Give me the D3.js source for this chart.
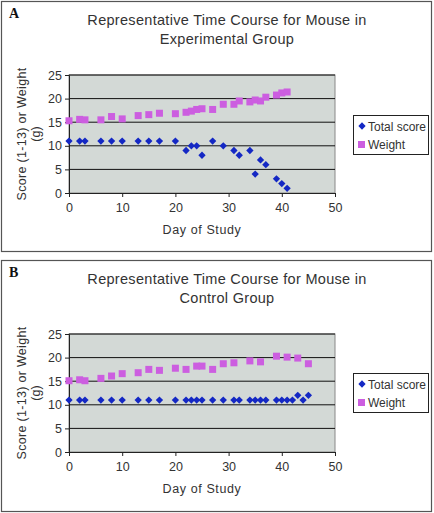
<!DOCTYPE html>
<html><head><meta charset="utf-8">
<script src="https://cdn.jsdelivr.net/npm/d3@7"></script>
<style>body{margin:0;background:#fff}svg{display:block}text{font-family:"Liberation Sans",Arial,sans-serif;fill:#333}</style>
</head><body>
<script>
const xTicks = [0,10,20,30,40,50];
const yTicks = [0,5,10,15,20,25];
const labels = ["A","B"];
const titles = [["Representative Time Course for Mouse in","Experimental Group"],["Representative Time Course for Mouse in","Control Group"]];
const seriesNames = ["Total score","Weight"];

const daysScoreA = [0,2,3,6,8,10,13,15,17,20,22,23,24,25,27,29,31,32,34,35,36,37,39,40,41];
const scoreA     = [11,11,11,11,11,11,11,11,11,11,9,10,10,8,11,10,9,8,9,4,7,6,3,2,1];
const daysWeightA = [0,2,3,6,8,10,13,15,17,20,22,23,24,25,27,29,31,32,34,35,36,37,39,40,41];
const weightA     = [15.3,15.6,15.5,15.5,16.2,15.7,16.4,16.6,16.9,16.8,17.1,17.35,17.7,17.85,17.7,18.8,18.8,19.5,19.3,19.7,19.5,20.3,20.75,21.2,21.4];

const daysScoreB = [0,2,3,6,8,10,13,15,17,20,22,23,24,25,27,29,31,32,34,35,36,37,39,40,41,42,43,44,45];
const scoreB     = [11,11,11,11,11,11,11,11,11,11,11,11,11,11,11,11,11,11,11,11,11,11,11,11,11,11,12,11,12];
const daysWeightB = [0,2,3,6,8,10,13,15,17,20,22,24,25,27,29,31,34,36,39,41,43,45];
const weightB     = [15.1,15.3,15.1,15.6,16.1,16.6,16.8,17.5,17.3,17.75,17.5,18.2,18.2,17.5,18.7,18.9,19.3,19.1,20.3,20.1,19.9,18.7];

const W = 434, H = 513;
const svg = d3.select("body").append("svg").attr("width", W).attr("height", H);

const panels = [
  {top:1, bottom:251, plotTop:75, plotBottom:193, sd:daysScoreA, s:scoreA, wd:daysWeightA, w:weightA},
  {top:260, bottom:511, plotTop:334, plotBottom:452, sd:daysScoreB, s:scoreB, wd:daysWeightB, w:weightB}
];
const blue = "#1428c4", pink = "#cc5ee0";

panels.forEach((p, i) => {
  const g = svg.append("g");
  g.append("rect").attr("x", 1.5).attr("y", p.top + 0.5).attr("width", 430).attr("height", p.bottom - p.top)
    .attr("fill", "#fff").attr("stroke", "#555").attr("stroke-width", 1.2);
  g.append("text").attr("x", 9).attr("y", p.top + 17).text(labels[i])
    .style("font-family", "'Liberation Serif',serif").style("font-weight", "bold").style("font-size", "14px").style("fill", "#111");
  titles[i].forEach((t, j) => {
    g.append("text").attr("x", 227).attr("y", p.top + 24 + j * 19).attr("text-anchor", "middle")
      .style("font-size", "14.5px").style("letter-spacing", "0.3px").text(t);
  });
  const x = d3.scaleLinear().domain([0, 50]).range([69, 335]);
  const y = d3.scaleLinear().domain([0, 25]).range([p.plotBottom, p.plotTop]);
  g.append("rect").attr("x", x(0)).attr("y", y(25)).attr("width", x(50) - x(0)).attr("height", y(0) - y(25))
    .attr("fill", "#d3d9d6").attr("stroke", "#888").attr("stroke-width", 1);
  g.selectAll(".grid").data(yTicks.filter(v => v > 0)).join("line")
    .attr("x1", x(0)).attr("x2", x(50)).attr("y1", d => y(d)).attr("y2", d => y(d))
    .attr("stroke", "#111").attr("stroke-width", 1);
  const ya = g.append("g").attr("transform", `translate(${x(0)},0)`)
    .call(d3.axisLeft(y).tickValues(yTicks).tickSize(4).tickPadding(3));
  const xa = g.append("g").attr("transform", `translate(0,${y(0)})`)
    .call(d3.axisBottom(x).tickValues(xTicks).tickSize(4).tickPadding(6));
  [ya, xa].forEach(a => {
    a.select(".domain").attr("stroke", "#222");
    a.selectAll(".tick line").attr("stroke", "#222");
    a.selectAll("text").style("font-size", "12.5px").style("font-family", "'Liberation Sans',Arial,sans-serif").attr("fill", "#333");
  });
  g.append("text").attr("x", 202).attr("y", p.plotBottom + 41).attr("text-anchor", "middle")
    .style("font-size", "12.5px").style("letter-spacing", "0.6px").text("Day of Study");
  const cy = (p.plotTop + p.plotBottom) / 2;
  g.append("text").attr("transform", `translate(26,${cy}) rotate(-90)`).attr("text-anchor", "middle")
    .style("font-size", "12.5px").style("letter-spacing", "0.3px").text("Score (1-13) or Weight");
  g.append("text").attr("transform", `translate(40,${cy}) rotate(-90)`).attr("text-anchor", "middle")
    .style("font-size", "12.5px").text("(g)");

  g.selectAll(".w").data(p.wd.map((d, k) => [d, p.w[k]])).join("rect")
    .attr("x", d => x(d[0]) - 3.5).attr("y", d => y(d[1]) - 3.5).attr("width", 7).attr("height", 7).attr("fill", pink);
  const diamond = d3.symbol().type(d3.symbolDiamond2).size(34);
  g.selectAll(".s").data(p.sd.map((d, k) => [d, p.s[k]])).join("path")
    .attr("d", diamond).attr("transform", d => `translate(${x(d[0])},${y(d[1])})`).attr("fill", blue);

  const lx = 353, ly = p.top + (i === 0 ? 114 : 113);
  g.append("rect").attr("x", lx + 0.5).attr("y", ly + 0.5).attr("width", 75).attr("height", 39)
    .attr("fill", "#fff").attr("stroke", "#222").attr("stroke-width", 1);
  g.append("path").attr("d", diamond).attr("transform", `translate(${lx + 9},${ly + 11})`).attr("fill", blue);
  g.append("rect").attr("x", lx + 5).attr("y", ly + 26).attr("width", 7).attr("height", 7).attr("fill", pink);
  seriesNames.forEach((n, k) => {
    g.append("text").attr("x", lx + 15).attr("y", ly + 15.5 + k * 18).style("font-size", "12px").text(n);
  });
});
</script>
</body></html>
